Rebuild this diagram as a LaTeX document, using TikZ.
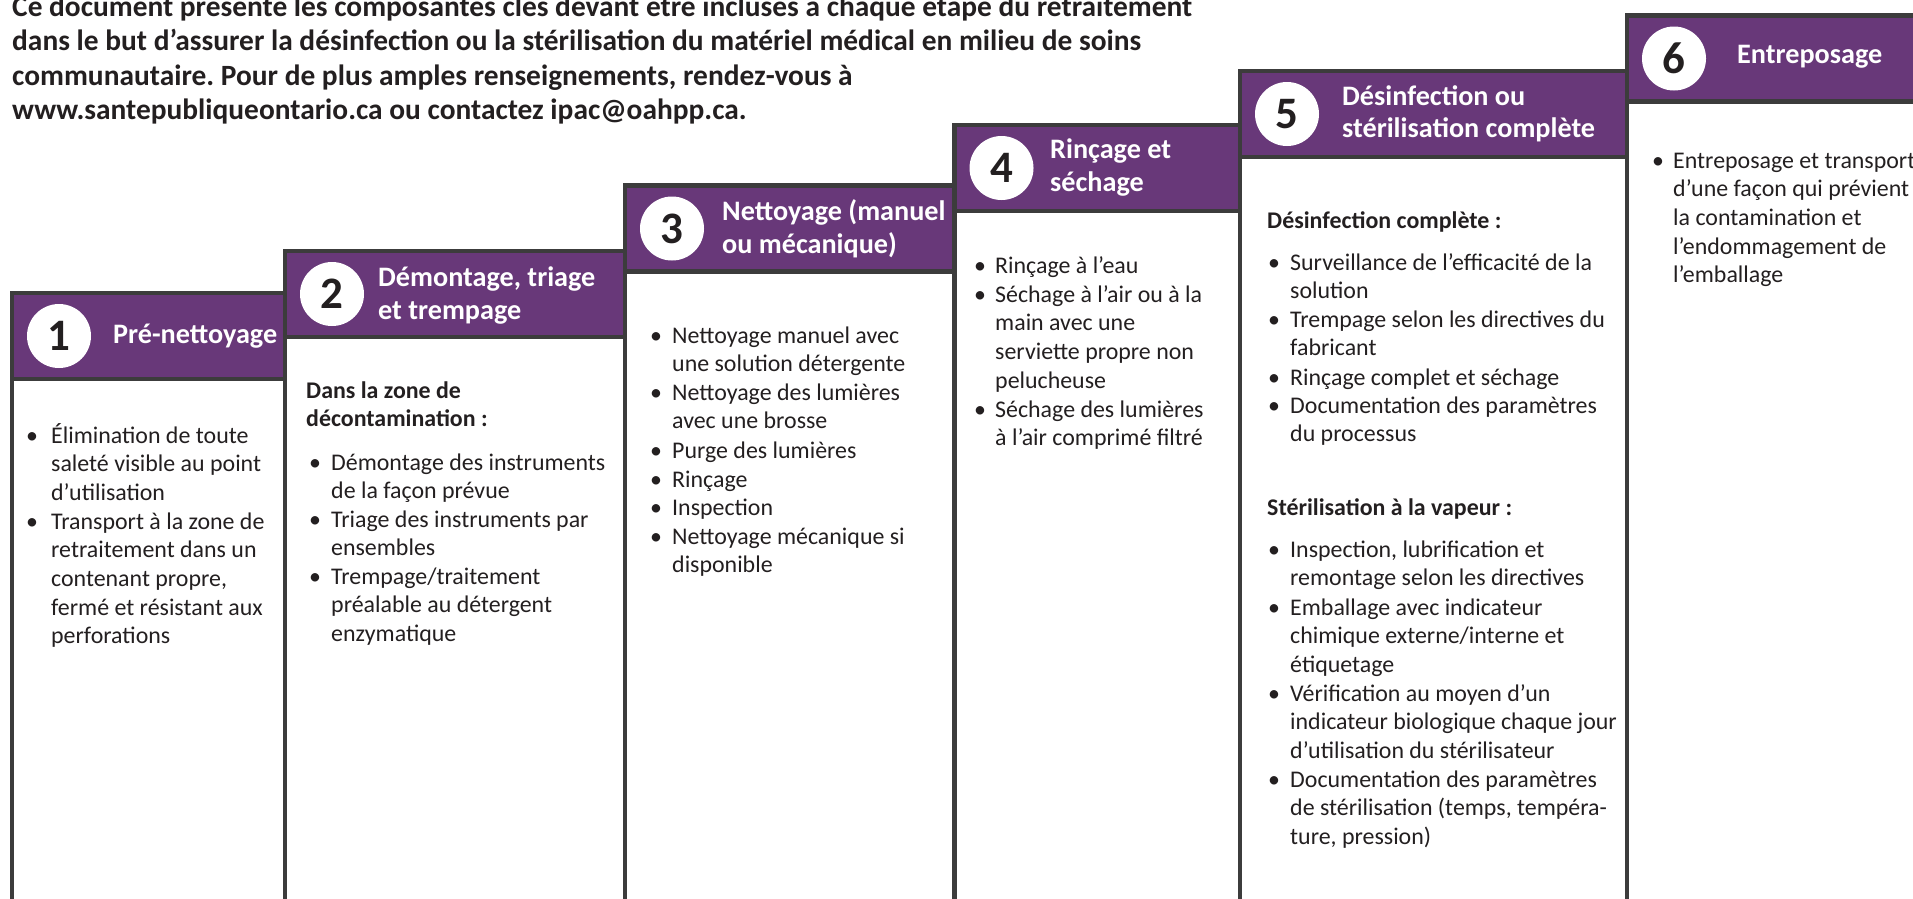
\documentclass[tikz,border=0pt]{standalone}
\usepackage{fontspec}
\setmainfont{Carlito}
\definecolor{pho}{RGB}{104,56,121}
\definecolor{edge}{RGB}{60,60,60}
\definecolor{ink}{RGB}{35,31,32}
\tikzset{
  frame/.style={draw=edge, line width=4.5pt},
  num/.style={circle, fill=white, minimum size=64pt, inner sep=0pt,
    font=\fontsize{45}{45}\selectfont\bfseries, text=ink},
  ttl/.style={anchor=base west, inner sep=0pt, text=white,
    font=\fontsize{28.2}{28.2}\selectfont\bfseries},
  body/.style={anchor=base west, inner sep=0pt, text=ink,
    font=\fontsize{23.9}{23.9}\selectfont},
  bodyb/.style={anchor=base west, inner sep=0pt, text=ink,
    font=\fontsize{23.9}{23.9}\selectfont\bfseries},
  intro/.style={anchor=base west, inner sep=0pt, text=ink,
    font=\fontsize{29.4}{29.4}\selectfont\bfseries},
}
% #1 name, #2 style, #3 x, #4 first baseline, #5 line step, #6 lines
\newcommand\tlines[6]{%
  \foreach \myline [count=\i] in {#6} {
    \node[#2] (#1-\i) at (#3,{#4+(\i-1)*#5}) {\myline};
  }%
}
% #1 name, #2 bullet x, #3 text x, #4 baseline, #5 lines
\newcommand\bitem[5]{%
  \node[body] (#1) at ({#2-3},#4) {•};
  \tlines{#1}{body}{#3}{#4}{28.7}{#5}%
}
% #1 name, #2 left, #3 right, #4 top, #5 number
\newcommand\stepbox[5]{%
  \fill[white] (#2,#4) rectangle (#3,920);
  \fill[pho] (#2,#4) rectangle (#3,{#4+86});
  \draw[frame] (#2,920) -- (#2,#4) -- (#3,#4) -- (#3,920);
  \draw[frame] (#2,{#4+86}) -- (#3,{#4+86});
  \node[num] (#1) at ({#2+47},{#4+43}) {#5};
}
\begin{document}
\frenchspacing
\begin{tikzpicture}[x=1pt,y=-1pt]
\useasboundingbox (0,0) rectangle (1913,898);
\clip (0,0) rectangle (1913,898);

% intro
\tlines{intro}{intro}{12}{16}{34.5}{Ce document présente les composantes clés devant être incluses à chaque étape du retraitement,
  dans le but d’assurer la désinfection ou la stérilisation du matériel médical en milieu de soins,
  {communautaire. Pour de plus amples renseignements, rendez-vous à},
  www.santepubliqueontario.ca ou contactez ipac@oahpp.ca.}

% boxes
\stepbox{n1}{12}{285}{293}{1}
\stepbox{n2}{285}{625}{251}{2}
\stepbox{n3}{625}{954.5}{185.5}{3}
\stepbox{n4}{954.5}{1240}{125}{4}
\stepbox{n5}{1240}{1627}{71}{5}
\stepbox{n6}{1627}{1960}{15.5}{6}

% titles
\node[ttl] (t1) at (113,343) {Pré-nettoyage};
\tlines{t2}{ttl}{378}{286}{33}{{Démontage, triage},et trempage}
\tlines{t3}{ttl}{722}{220}{33}{Nettoyage (manuel,ou mécanique)}
\tlines{t4}{ttl}{1050}{158}{33}{Rinçage et,séchage}
\tlines{t5}{ttl}{1342}{105}{32}{Désinfection ou,stérilisation complète}
\node[ttl] (t6) at (1737,63) {Entreposage};

% box 1
\bitem{a1}{29}{51}{443}{Élimination de toute,saleté visible au point,d’utilisation}
\bitem{a2}{29}{51}{529}{Transport à la zone de,retraitement dans un,{contenant propre,},fermé et résistant aux,perforations}

% box 2
\tlines{b0}{bodyb}{306}{398}{28.7}{Dans la zone de,décontamination :}
\bitem{b1}{312}{331}{470}{Démontage des instruments,de la façon prévue}
\bitem{b2}{312}{331}{527}{Triage des instruments par,ensembles}
\bitem{b3}{312}{331}{584}{Trempage/traitement,préalable au détergent,enzymatique}

% box 3
\bitem{c1}{653}{672}{343}{Nettoyage manuel avec,une solution détergente}
\bitem{c2}{653}{672}{400}{Nettoyage des lumières,avec une brosse}
\bitem{c3}{653}{672}{458}{Purge des lumières}
\bitem{c4}{653}{672}{487}{Rinçage}
\bitem{c5}{653}{672}{515}{Inspection}
\bitem{c6}{653}{672}{544}{Nettoyage mécanique si,disponible}

% box 4
\bitem{d1}{977}{995}{273}{Rinçage à l’eau}
\bitem{d2}{977}{995}{302}{Séchage à l’air ou à la,main avec une,serviette propre non,pelucheuse}
\bitem{d3}{977}{995}{417}{Séchage des lumières,à l’air comprimé filtré}

% box 5
\node[bodyb] (e0) at (1267,228) {Désinfection complète :};
\bitem{e1}{1271}{1290}{270}{Surveillance de l’efficacité de la,solution}
\bitem{e2}{1271}{1290}{327}{Trempage selon les directives du,fabricant}
\bitem{e3}{1271}{1290}{385}{Rinçage complet et séchage}
\bitem{e4}{1271}{1290}{413}{Documentation des paramètres,du processus}
\node[bodyb] (f0) at (1267,515) {Stérilisation à la vapeur :};
\bitem{f1}{1271}{1290}{557}{{Inspection, lubrification et},remontage selon les directives}
\bitem{f2}{1271}{1290}{615}{Emballage avec indicateur,chimique externe/interne et,étiquetage}
\bitem{f3}{1271}{1290}{701}{Vérification au moyen d’un,indicateur biologique chaque jour,d’utilisation du stérilisateur}
\bitem{f4}{1271}{1290}{787}{Documentation des paramètres,{de stérilisation (temps, tempéra-},{ture, pression)}}

% box 6
\bitem{g1}{1655}{1673}{168}{Entreposage et transport,d’une façon qui prévient,la contamination et,l’endommagement de,l’emballage}
\end{tikzpicture}
\end{document}
